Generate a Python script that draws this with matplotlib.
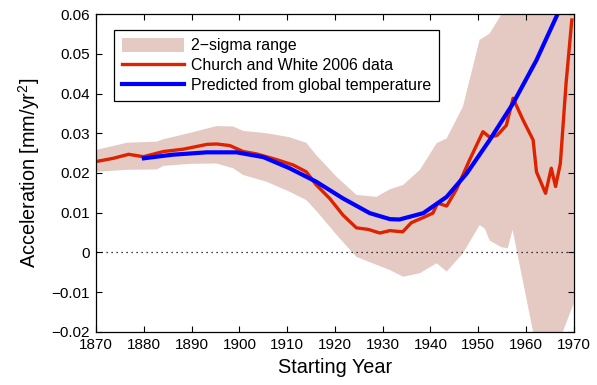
import matplotlib
matplotlib.use("Agg")
import matplotlib.pyplot as plt
import numpy as np

plt.rcParams['font.family'] = ['Liberation Sans', 'DejaVu Sans']
plt.rcParams['mathtext.fontset'] = 'custom'
plt.rcParams['mathtext.rm'] = 'Liberation Sans'
plt.rcParams['mathtext.it'] = 'Liberation Sans'

# Church and White 2006 data
cw_years = [1870.5, 1873.6, 1876.8, 1879.9, 1884.1, 1888.3, 1893.2, 1895.2, 1898.0, 1900.8,
            1903.6, 1907.7, 1911.3, 1914.0, 1916.1, 1918.9, 1921.7, 1924.5, 1927.0, 1929.4,
            1931.5, 1934.2, 1936.0, 1938.5, 1940.5, 1941.5, 1943.4, 1945.5, 1948.2, 1951.0,
            1952.4, 1954.0, 1955.9, 1957.3, 1959.4, 1961.5, 1962.2, 1964.1, 1965.3, 1966.2,
            1967.2, 1968.4, 1969.6]
cw_vals = [0.0230, 0.0237, 0.0247, 0.0241, 0.0254, 0.0260, 0.0272, 0.0273, 0.0269, 0.0254,
           0.0248, 0.0234, 0.0220, 0.0203, 0.0170, 0.0136, 0.0094, 0.0062, 0.0058, 0.0049,
           0.0055, 0.0052, 0.0075, 0.0088, 0.0099, 0.0124, 0.0117, 0.0160, 0.0233, 0.0304,
           0.0290, 0.0295, 0.0320, 0.0388, 0.0333, 0.0283, 0.0203, 0.0149, 0.0212, 0.0166,
           0.0224, 0.0426, 0.0585]

# Predicted from global temperature
pred_years = [1880.0, 1886.0, 1893.2, 1899.4, 1905.0, 1910.5, 1916.1, 1921.7, 1927.3, 1931.5,
              1933.5, 1938.5, 1943.4, 1947.6, 1952.4, 1957.3, 1962.2, 1966.7, 1968.0]
pred_vals = [0.0237, 0.0246, 0.0252, 0.0252, 0.0240, 0.0212, 0.0178, 0.0136, 0.0099, 0.0084,
             0.0083, 0.0099, 0.0140, 0.0199, 0.0283, 0.0375, 0.0484, 0.0602, 0.0635]

# 2-sigma range
band_years = [1870.0, 1876.4, 1882.7, 1884.1, 1889.7, 1895.2, 1898.7, 1900.8, 1905.7, 1910.5,
              1914.0, 1916.1, 1920.3, 1924.5, 1928.7, 1931.5, 1934.3, 1937.8, 1941.3, 1943.4,
              1946.8, 1950.3, 1951.4, 1952.4, 1954.9, 1956.2, 1957.2, 1961.5, 1964.0, 1966.0,
              1967.7, 1970.0]
band_upper = [0.0258, 0.0276, 0.0279, 0.0285, 0.0301, 0.0318, 0.0317, 0.0306, 0.0300, 0.0290,
              0.0276, 0.0245, 0.0191, 0.0145, 0.0140, 0.0159, 0.0170, 0.0208, 0.0275, 0.0287,
              0.0367, 0.0535, 0.0543, 0.0551, 0.0600, 0.0640, 0.0680, 0.0750, 0.0800, 0.0850,
              0.0900, 0.0950]
band_lower = [0.0203, 0.0208, 0.0209, 0.0218, 0.0223, 0.0224, 0.0212, 0.0195, 0.0178, 0.0153,
              0.0132, 0.0105, 0.0045, -0.0011, -0.0031, -0.0044, -0.0061, -0.0052, -0.0027, -0.0048,
              -0.0002, 0.0069, 0.0060, 0.0030, 0.0013, 0.0011, 0.0057, -0.0200, -0.0320, -0.0330,
              -0.0200, -0.0128]

x_ticks = [1870, 1880, 1890, 1900, 1910, 1920, 1930, 1940, 1950, 1960, 1970]
y_ticks = [-0.02, -0.01, 0, 0.01, 0.02, 0.03, 0.04, 0.05, 0.06]
y_tick_labels = ['\u22120.02', '\u22120.01', '0', '0.01', '0.02', '0.03', '0.04', '0.05', '0.06']

fig = plt.figure(figsize=(5.97, 3.85), dpi=100)
ax = fig.add_axes([0.161, 0.1377, 0.8, 0.8259])

ax.fill_between(band_years, band_lower, band_upper, color='#E5C9C3', linewidth=0,
                label='2\u2212sigma range')
ax.plot(cw_years, cw_vals, color='#DD2200', linewidth=2.4, label='Church and White 2006 data')
ax.plot(pred_years, pred_vals, color='#0000FF', linewidth=3.0,
        label='Predicted from global temperature')
ax.axhline(0, color='black', linestyle=(0, (1, 3)), linewidth=0.9)

ax.set_xlim(1870, 1970)
ax.set_ylim(-0.02, 0.06)
ax.set_xticks(x_ticks)
ax.set_yticks(y_ticks)
ax.set_yticklabels(y_tick_labels)
ax.tick_params(direction='in', top=True, right=True, labelsize=11, length=4.5, width=0.8)
ax.tick_params(axis='x', pad=4)
ax.tick_params(axis='y', pad=4.5)
for s in ax.spines.values():
    s.set_linewidth(0.9)

ax.set_xlabel('Starting Year', fontsize=14.3, labelpad=5)
ax.set_ylabel('Acceleration [mm/yr$^{2}$]', fontsize=14.3)
ax.yaxis.set_label_coords(-0.113, 0.5)

leg = ax.legend(loc='upper left', bbox_to_anchor=(0.038, 0.95), fontsize=11.4,
                fancybox=False, edgecolor='black', framealpha=1, handlelength=3.9,
                handleheight=1.0, borderpad=0.5, labelspacing=0.28, handletextpad=0.45,
                borderaxespad=0)
leg.get_frame().set_linewidth(0.9)

fig.savefig('out.png', dpi=100)
